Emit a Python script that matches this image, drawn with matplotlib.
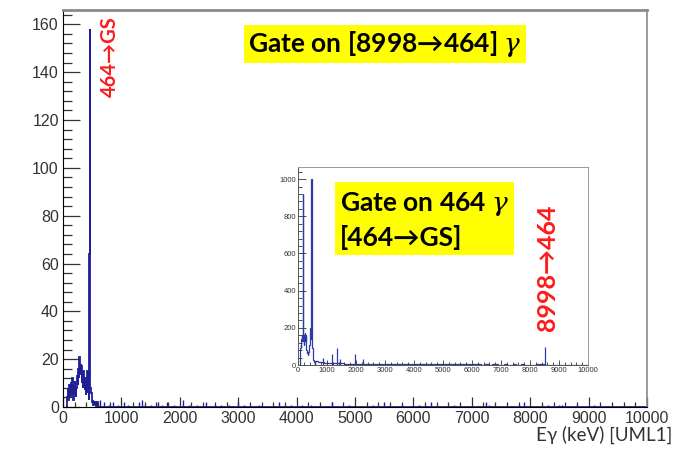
import numpy as np
import matplotlib
matplotlib.use("Agg")
import matplotlib.pyplot as plt
from matplotlib.ticker import MultipleLocator

# =====================================
# Datos del espectro gamma (cuentas por canal)
# =====================================

# Espectro principal: canales de 10 keV entre 60 y 600 keV
main_low_start = 60
main_bin = 10
main_low_counts = [2, 4, 8, 3, 6, 9, 4, 7, 10, 5,
                   12, 3, 9, 6, 11, 7, 4, 8, 13, 9,
                   16, 12, 21, 14, 18, 17, 10, 13, 8, 15,
                   11, 7, 12, 5, 9, 15, 6, 10, 3, 64,
                   158, 8, 6, 3, 2, 3, 1, 2, 1, 2,
                   1, 0, 1, 2]
# Picos aislados de pocas cuentas por encima de 600 keV
main_spike_energy = [640, 700, 780, 850, 950, 1050, 1120, 1300, 1350, 1400,
                     1500, 1620, 1700, 1780, 1900, 2050, 2150, 2300, 2450, 2600,
                     2700, 2850, 3000, 3100, 3350, 3700, 3900, 4100, 4250, 4600,
                     4900, 5300, 5500, 5800, 6100, 6300, 6700, 7250, 7300, 7800,
                     7900, 8300, 8500, 8550, 8800, 9100]
main_spike_counts = [3, 2, 1, 2, 1, 2, 1, 2, 3, 1,
                     1, 2, 1, 2, 1, 3, 1, 1, 2, 1,
                     1, 1, 2, 1, 1, 2, 1, 1, 1, 2,
                     1, 1, 2, 1, 1, 2, 1, 2, 1, 1,
                     2, 1, 1, 1, 1, 1]

# Espectro del recuadro: canales de 10 keV entre 80 y 600 keV
inset_low_start = 80
inset_bin = 10
inset_low_counts = [90, 110, 95, 120, 140, 160, 150, 130, 170, 920,
                    160, 140, 120, 110, 130, 150, 170, 130, 160, 120,
                    100, 80, 70, 65, 70, 60, 55, 60, 70, 80,
                    90, 110, 130, 150, 180, 200, 160, 140, 1000, 220,
                    150, 90, 60, 40, 30, 25, 22, 20, 18, 20,
                    16, 15]
# Resto del recuadro: canales de 100 keV entre 600 y 10000 keV
inset_tail_start = 600
inset_tail_bin = 100
inset_tail_counts = [22, 16, 14, 12,
                     12, 11, 10, 10, 9, 9, 8, 8, 8, 7,
                     7, 7, 6, 6, 6, 6, 5, 6, 5, 5,
                     5, 5, 4, 5, 4, 4, 5, 4, 4, 4,
                     4, 4, 3, 4, 4, 3, 4, 3, 3, 4,
                     3, 3, 4, 3, 3, 3, 4, 3, 3, 3,
                     3, 3, 3, 2, 3, 3, 2, 3, 3, 2,
                     2, 3, 2, 2, 3, 2, 2, 3, 2, 2,
                     2, 2, 3, 4, 3, 2, 2, 2, 2, 2,
                     2, 2, 2, 1, 2, 2, 1, 2, 1, 1]
inset_spike_energy = [873, 1162, 1355, 1460, 1966, 2231, 8534]
inset_spike_counts = [40, 60, 90, 30, 60, 30, 95]

COLOR_MAIN = "#1f1f9a"
COLOR_INSET = "#2c3aa8"
FONT_NUM = ["Liberation Sans", "DejaVu Sans"]
FONT_BOX = ["Lato", "DejaVu Sans"]

plt.rcParams["mathtext.fontset"] = "dejavuserif"


def bordes(inicio, ancho, n):
    return inicio + ancho * np.arange(n + 1)


def estilo_ejes(ax, fsize, color_marco, ymaj, ymin, xlen, ylen):
    ax.set_xlim(0, 10000)
    ax.xaxis.set_major_locator(MultipleLocator(1000))
    ax.xaxis.set_minor_locator(MultipleLocator(200))
    ax.yaxis.set_major_locator(MultipleLocator(ymaj))
    ax.yaxis.set_minor_locator(MultipleLocator(ymin))
    ax.tick_params(axis="both", which="both", direction="in",
                   top=False, right=False, colors="#333333")
    ax.tick_params(axis="y", which="major", length=ylen[0], width=0.9)
    ax.tick_params(axis="y", which="minor", length=ylen[1], width=0.9)
    ax.tick_params(axis="x", which="major", length=xlen[0], width=0.9)
    ax.tick_params(axis="x", which="minor", length=xlen[1], width=0.9)
    for lbl in ax.get_xticklabels() + ax.get_yticklabels():
        lbl.set_fontfamily(FONT_NUM)
        lbl.set_fontsize(fsize)
    for lado in ["top", "right"]:
        ax.spines[lado].set_color(color_marco)


fig = plt.figure(figsize=(6.84, 4.69), dpi=100)
W, H = 684, 469

# =====================================
# Espectro principal
# =====================================
ax = fig.add_axes([63 / W, 1 - 407 / H, (647 - 63) / W, (407 - 10) / H])
edges = list(bordes(main_low_start, main_bin, len(main_low_counts))) + [10000]
ax.stairs(main_low_counts + [0], edges, color=COLOR_MAIN, lw=1.3)
ax.vlines(main_spike_energy, 0, main_spike_counts, color=COLOR_MAIN, lw=1.0)
ax.set_ylim(0, 166)
estilo_ejes(ax, 11.5, "#8a8a8a", 20, 4, (7, 3.5), (12, 6.5))
ax.spines["top"].set_linewidth(2.0)
ax.spines["right"].set_linewidth(1.2)
ax.tick_params(axis="x", pad=3)
ax.tick_params(axis="y", pad=3)

# =====================================
# Recuadro con el espectro de la compuerta en 464
# =====================================
axi = fig.add_axes([298 / W, 1 - 365 / H, (588 - 298) / W, (365 - 167) / H])
edges_low = bordes(inset_low_start, inset_bin, len(inset_low_counts))
edges_tail = bordes(inset_tail_start, inset_tail_bin, len(inset_tail_counts))
axi.stairs(inset_low_counts, edges_low, color=COLOR_INSET, lw=0.9)
axi.stairs(inset_tail_counts, edges_tail, color=COLOR_INSET, lw=0.9)
axi.vlines(inset_spike_energy, 0, inset_spike_counts, color=COLOR_INSET, lw=0.9)
axi.set_ylim(0, 1065)
estilo_ejes(axi, 5.5, "#9a9a9a", 200, 40, (3.5, 2), (6, 3))
for lado in ["left", "bottom"]:
    axi.spines[lado].set_color("#555555")
for lado in axi.spines:
    axi.spines[lado].set_linewidth(0.7)
axi.tick_params(axis="both", which="both", width=0.6, pad=1.5)

# =====================================
# Textos y etiquetas
# =====================================
amarillo = dict(boxstyle="square,pad=0.15", facecolor="#ffff00", edgecolor="none")

fig.text(385 / W, 1 - 44 / H, "Gate on [8998\u2192464] $\\gamma$",
         fontsize=19, fontweight="bold", family=FONT_BOX,
         ha="center", va="center", bbox=amarillo)

fig.text(340 / W, 1 - 220 / H, "Gate on 464 $\\gamma$\n[464\u2192GS]",
         fontsize=19, fontweight="bold", family=FONT_BOX,
         ha="left", va="center", linespacing=1.35,
         bbox=dict(boxstyle="square,pad=0.18", facecolor="#ffff00",
                   edgecolor="none"))

fig.text(110 / W, 1 - 57 / H, "464\u2192GS", rotation=90,
         fontsize=14.5, fontweight="bold", color="#ff1a1a", family=FONT_BOX,
         ha="center", va="center")

fig.text(548 / W, 1 - 268 / H, "8998\u2192464", rotation=90,
         fontsize=18, fontweight="bold", color="#ff1a1a", family=FONT_BOX,
         ha="center", va="center")

fig.text(672 / W, 1 - 435 / H, "E\u03b3 (keV) [UML1]",
         fontsize=13.5, color="#333333", family=FONT_BOX,
         ha="right", va="center")

fig.savefig("out.png", dpi=100)
